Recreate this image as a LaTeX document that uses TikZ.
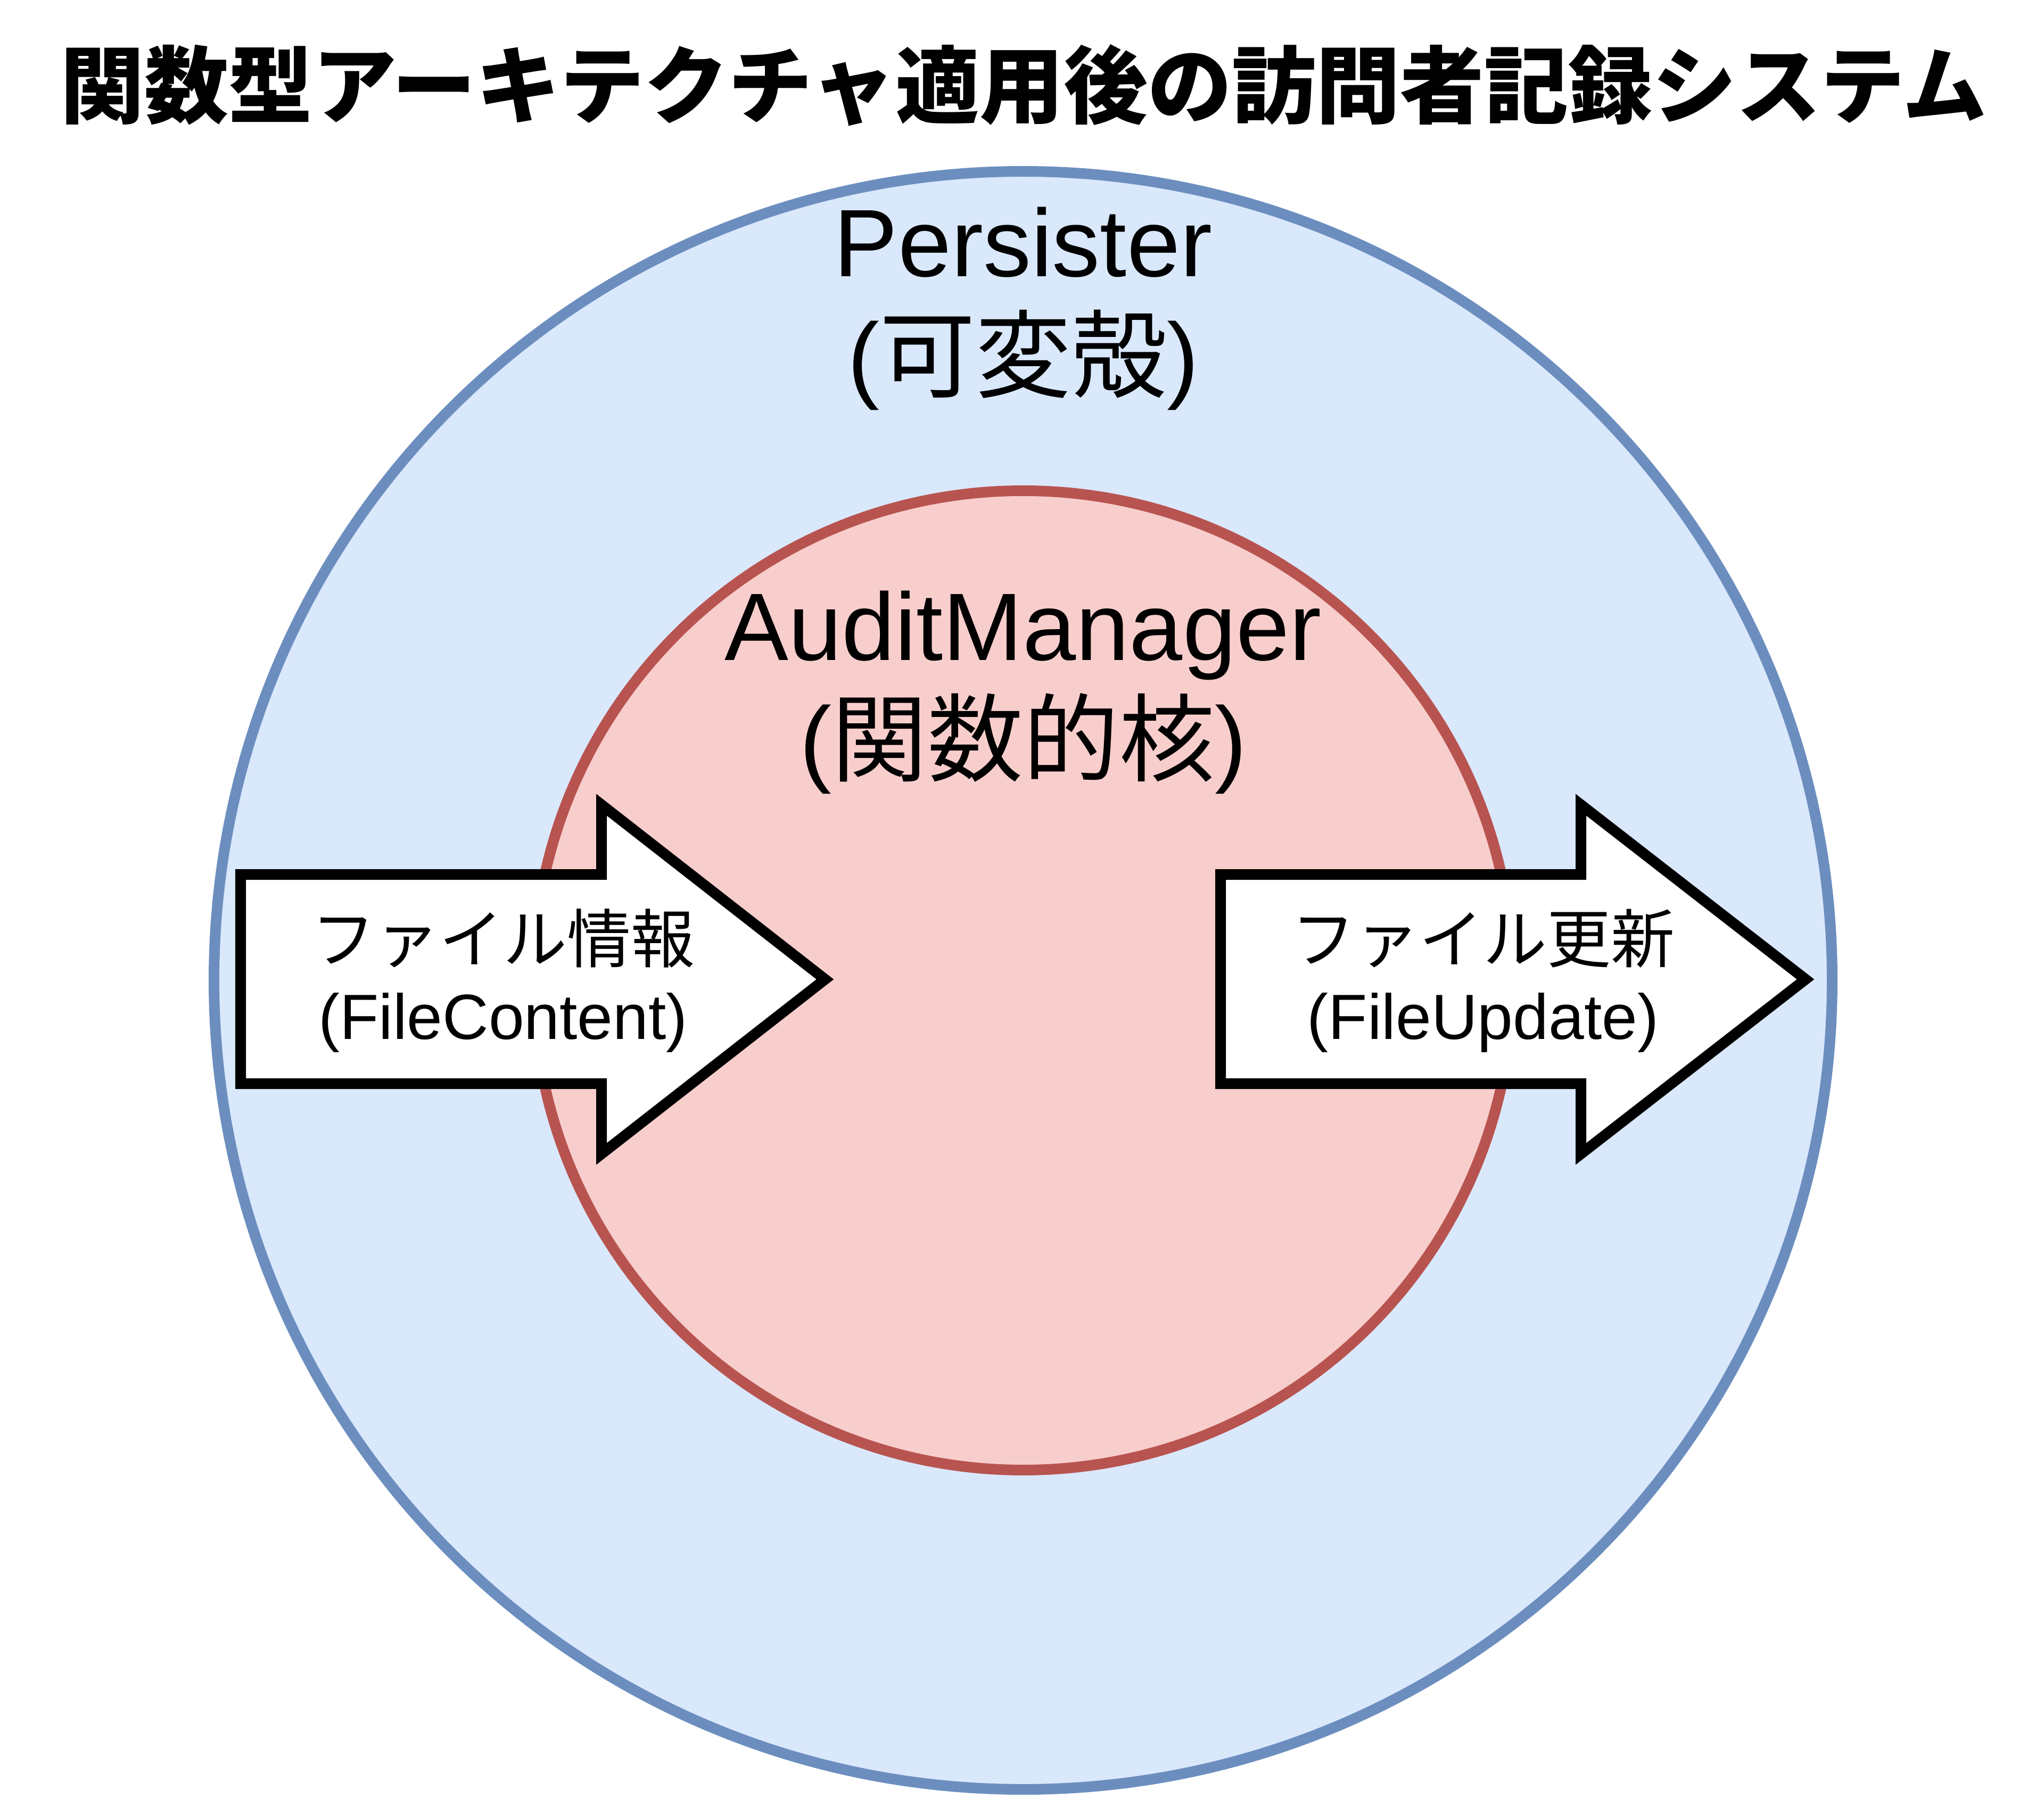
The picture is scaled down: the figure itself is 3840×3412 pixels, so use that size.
\documentclass[tikz,border=0pt]{standalone}
\usepackage{fontspec}
\setmainfont{Liberation Sans}
\newfontfamily\jp{Noto Sans CJK JP}
\definecolor{shellfill}{HTML}{DAE8FC}
\definecolor{shelldraw}{HTML}{6C8EBF}
\definecolor{corefill}{HTML}{F8CECC}
\definecolor{coredraw}{HTML}{B85450}
\begin{document}
\begin{tikzpicture}[x=0.25pt,y=-0.25pt,
  ring/.style={circle, line width=5pt, inner sep=0pt},
  bigarrow/.style={draw=black, fill=white, line width=5pt, line join=miter, miter limit=10},
  bigtxt/.style={font=\fontsize{45}{53.5}\selectfont, align=center, text width=400pt, inner sep=0pt, anchor=base},
  smalltxt/.style={font=\fontsize{30}{36}\selectfont, align=center, text width=250pt, inner sep=0pt, anchor=base},
  titletxt/.style={font={\jp\bfseries\fontsize{39.5}{45}\selectfont}, inner sep=0pt, anchor=base}
]
\path[use as bounding box, fill=white] (0,0) rectangle (3840,3412);

\node[titletxt] (title) at (1923,220) {関数型アーキテクチャ適用後の訪問者記録システム};

\node[ring, draw=shelldraw, fill=shellfill, minimum size=760pt] (shell) at (1922,1842) {};
\node[ring, draw=coredraw, fill=corefill, minimum size=460pt] (core) at (1922,1842) {};

\node[bigtxt] (shelltxt) at (1922,520) {Persister\\({\jp 可変殻})};
\node[bigtxt] (coretxt) at (1922,1240) {AuditManager\\({\jp 関数的核})};

\draw[bigarrow] (452,1643) -- (1130,1643) -- (1130,1512) -- (1550,1840)
  -- (1130,2168) -- (1130,2036) -- (452,2036) -- cycle;
\draw[bigarrow] (2293,1643) -- (2970,1643) -- (2970,1512) -- (3392,1840)
  -- (2970,2168) -- (2970,2036) -- (2293,2036) -- cycle;

\node[smalltxt] (intxt) at (945,1808) {{\jp ファイル情報}\\(FileContent)};
\node[smalltxt] (outtxt) at (2786,1808) {{\jp ファイル更新}\\(FileUpdate)};
\end{tikzpicture}
\end{document}
